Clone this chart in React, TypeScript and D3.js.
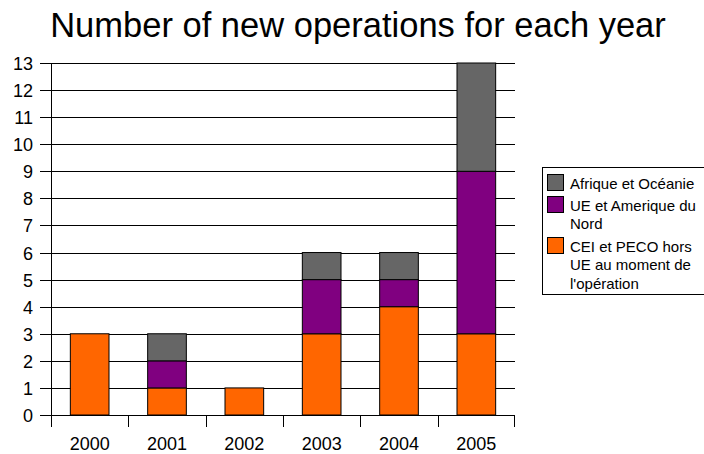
import React from "react";
import * as d3 from "d3";

const years = ["2000", "2001", "2002", "2003", "2004", "2005"];
const ceiPeco = [3, 1, 1, 3, 4, 3];
const ueAmerique = [0, 1, 0, 2, 1, 6];
const afriqueOceanie = [0, 1, 0, 1, 1, 4];
const yTicks = d3.range(0, 14);
const seriesColors = ["#FF6600", "#800080", "#666666"];
const legendLines = [["Afrique et Océanie"], ["UE et Amerique du", "Nord"], ["CEI et PECO hors", "UE au moment de", "l'opération"]];
const legendColors = ["#666666", "#800080", "#FF6600"];

export default function App() {
  const W = 704, H = 454;
  const left = 51, right = 515, top = 63, bottom = 415;
  const x = d3.scaleBand().domain(years).range([left, right]).paddingInner(0.5).paddingOuter(0.25);
  const y = d3.scaleLinear().domain([0, 13]).range([bottom, top]);
  const rows = years.map((yr, i) => ({ year: yr, a: ceiPeco[i], b: ueAmerique[i], c: afriqueOceanie[i] }));
  const stack = d3.stack<any>().keys(["a", "b", "c"])(rows);
  const band = (right - left) / years.length;
  const font = "'Liberation Sans', Arial, sans-serif";
  const lh = 18.5;
  return (
    <svg width={W} height={H} style={{ position: "absolute", left: 0, top: 0 }} fontFamily={font}>
      <rect width={W} height={H} fill="#fff" />
      <text x={358} y={37} textAnchor="middle" fontSize={34.5}>Number of new operations for each year</text>
      {yTicks.map(t => (
        <g key={t}>
          <line x1={40} x2={right} y1={Math.round(y(t)) + 0.5} y2={Math.round(y(t)) + 0.5} stroke="#000" strokeWidth={1} />
          <text x={33} y={y(t) + 7} textAnchor="end" fontSize={18}>{t}</text>
        </g>
      ))}
      {years.map((yr, i) => (
        <g key={yr}>
          <line x1={Math.round(left + band * i) + 0.5} x2={Math.round(left + band * i) + 0.5} y1={bottom} y2={bottom + 12} stroke="#000" />
          <text x={x(yr)! + x.bandwidth() / 2} y={450} textAnchor="middle" fontSize={18}>{yr}</text>
        </g>
      ))}
      <line x1={right - 0.5} x2={right - 0.5} y1={bottom} y2={bottom + 12} stroke="#000" />
      {stack.map((s, si) => (
        <g key={si} fill={seriesColors[si]}>
          {s.map((d, di) => d[1] > d[0] ? (
            <rect key={di} x={x(years[di])!} width={x.bandwidth()} y={y(d[1])} height={y(d[0]) - y(d[1])} stroke="#000" strokeWidth={1} />
          ) : null)}
        </g>
      ))}
      <line x1={left + 0.5} x2={left + 0.5} y1={top} y2={bottom} stroke="#000" />
      <line x1={left} x2={right} y1={bottom + 0.5} y2={bottom + 0.5} stroke="#000" />
      <rect x={542.5} y={167.5} width={170} height={127} fill="#fff" stroke="#000" />
      {(() => {
        const starts = [183, 205, 246];
        return legendLines.map((lines, i) => {
          const y0 = starts[i];
          return (
            <g key={i}>
              <rect x={547.5} y={y0 - 8.5} width={16} height={16} fill={legendColors[i]} stroke="#000" />
              {lines.map((l, li) => (
                <text key={li} x={570} y={y0 + 5.5 + li * lh} fontSize={15}>{l}</text>
              ))}
            </g>
          );
        });
      })()}
    </svg>
  );
}
